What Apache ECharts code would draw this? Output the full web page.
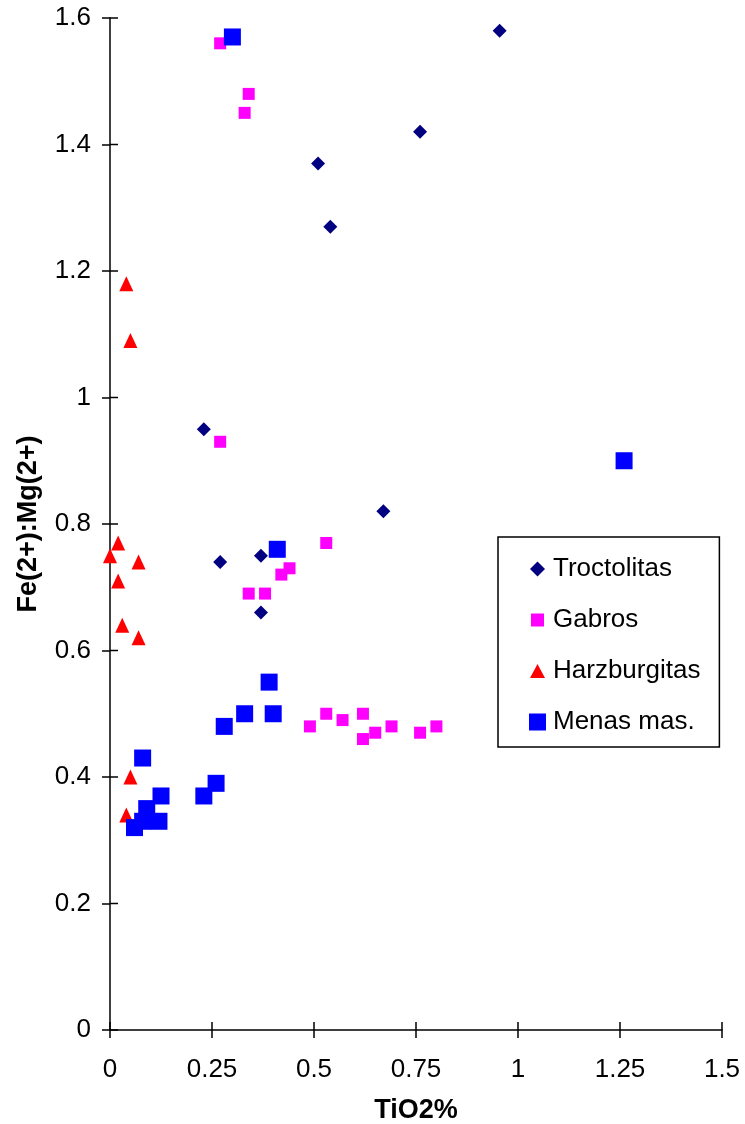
<!DOCTYPE html>
<html>
<head>
<meta charset="utf-8">
<script src="https://cdn.jsdelivr.net/npm/echarts@6/dist/echarts.min.js"></script>
<style>
  html, body { margin: 0; padding: 0; background: #fff; }
  #chart { width: 745px; height: 1124px; }
</style>
</head>
<body>
<div id="chart"></div>
<script>
// TiO2 (%) against Fe(2+):Mg(2+) for each rock group
const troctolitasTiO2 = [0.955, 0.76, 0.51, 0.54, 0.23, 0.67, 0.27, 0.37, 0.37];
const troctolitasFeMg = [1.58, 1.42, 1.37, 1.27, 0.95, 0.82, 0.74, 0.75, 0.66];

const gabrosTiO2 = [0.27, 0.34, 0.33, 0.27, 0.53, 0.44, 0.42, 0.34, 0.38, 0.49, 0.53, 0.57, 0.62, 0.62, 0.65, 0.69, 0.76, 0.80];
const gabrosFeMg = [1.56, 1.48, 1.45, 0.93, 0.77, 0.73, 0.72, 0.69, 0.69, 0.48, 0.50, 0.49, 0.50, 0.46, 0.47, 0.48, 0.47, 0.48];

const harzburgitasTiO2 = [0.04, 0.05, 0.02, 0.0, 0.07, 0.02, 0.03, 0.07, 0.05, 0.04];
const harzburgitasFeMg = [1.18, 1.09, 0.77, 0.75, 0.74, 0.71, 0.64, 0.62, 0.40, 0.34];

const menasTiO2 = [0.30, 1.26, 0.41, 0.39, 0.33, 0.40, 0.28, 0.08, 0.26, 0.23, 0.125, 0.09, 0.12, 0.08, 0.06];
const menasFeMg = [1.57, 0.90, 0.76, 0.55, 0.50, 0.50, 0.48, 0.43, 0.39, 0.37, 0.37, 0.35, 0.33, 0.33, 0.32];

const seriesNames = ['Troctolitas', 'Gabros', 'Harzburgitas', 'Menas mas.'];

// axis tick values (labels are formatted from these)
const xTicks = [0, 0.25, 0.5, 0.75, 1, 1.25, 1.5];
const yTicks = [0, 0.2, 0.4, 0.6, 0.8, 1, 1.2, 1.4, 1.6];

const xTitle = 'TiO2%';
const yTitle = 'Fe(2+):Mg(2+)';

function pairs(xs, ys) {
  return xs.map((x, i) => [x, ys[i]]);
}

const FONT = '"Liberation Sans", Arial, Helvetica, sans-serif';
const TICK = 8;

const chart = echarts.init(document.getElementById('chart'), null, { renderer: 'canvas' });

const axisLineStyle = { color: '#000', width: 1.5 };

// inner halves of the crossing tick marks: [value on x, value on y, which axis]
const innerTicks = xTicks.map(v => [v, 0, 0]).concat(yTicks.map(v => [0, v, 1]));

chart.setOption({
  animation: false,
  backgroundColor: '#ffffff',
  textStyle: { fontFamily: FONT, color: '#000' },
  grid: { left: 110, right: 23, top: 18, bottom: 94, containLabel: false, outerBoundsMode: 'none' },
  xAxis: {
    type: 'value', min: xTicks[0], max: xTicks[xTicks.length - 1], interval: 0.25,
    name: xTitle, nameLocation: 'middle', nameGap: 67,
    nameTextStyle: { fontFamily: FONT, fontSize: 27, fontWeight: 'bold', color: '#000' },
    axisLine: { onZero: false, lineStyle: axisLineStyle },
    axisTick: { length: TICK, lineStyle: axisLineStyle },
    axisLabel: { margin: 27, fontFamily: FONT, fontSize: 26, color: '#000' },
    splitLine: { show: false }
  },
  yAxis: {
    type: 'value', min: yTicks[0], max: yTicks[yTicks.length - 1], interval: 0.2,
    name: yTitle, nameLocation: 'middle', nameGap: 68, nameRotate: 90,
    nameTextStyle: { fontFamily: FONT, fontSize: 27, fontWeight: 'bold', color: '#000' },
    axisLine: { onZero: false, lineStyle: axisLineStyle },
    axisTick: { length: TICK, lineStyle: axisLineStyle },
    axisLabel: { margin: 19, fontFamily: FONT, fontSize: 26, color: '#000' },
    splitLine: { show: false }
  },
  legend: {
    orient: 'vertical',
    left: 498, top: 537,
    padding: [19, 19, 12, 31],
    itemGap: 25,
    itemWidth: 17, itemHeight: 17,
    borderColor: '#000', borderWidth: 1.5,
    backgroundColor: '#fff',
    textStyle: { fontFamily: FONT, fontSize: 26, color: '#000', padding: [0, 0, 0, 2] },
    data: [
      { name: seriesNames[0], icon: 'path://M0,0M17,17M8.5,1L16,8.5L8.5,16L1,8.5Z' },
      { name: seriesNames[1], icon: 'path://M0,0M17,17M2,2H15V15H2Z' },
      { name: seriesNames[2], icon: 'path://M0,0M17,17M8.5,1.5L16,15.5H1Z' },
      { name: seriesNames[3], icon: 'rect' }
    ]
  },
  series: [
    {
      type: 'custom', name: 'ticks', silent: true, clip: false, z: 1,
      data: innerTicks,
      renderItem: function (params, api) {
        const p = api.coord([api.value(0), api.value(1)]);
        const onY = api.value(2) === 1;
        return {
          type: 'line',
          shape: onY
            ? { x1: p[0], y1: p[1], x2: p[0] + TICK, y2: p[1] }
            : { x1: p[0], y1: p[1], x2: p[0], y2: p[1] - TICK },
          style: { stroke: '#000', lineWidth: 1.5 }
        };
      }
    },
    {
      name: seriesNames[0], type: 'scatter', symbol: 'diamond', symbolSize: 14, z: 2,
      itemStyle: { color: '#000080', opacity: 1 },
      data: pairs(troctolitasTiO2, troctolitasFeMg)
    },
    {
      name: seriesNames[1], type: 'scatter', symbol: 'rect', symbolSize: 12, z: 2,
      itemStyle: { color: '#ff00ff', opacity: 1 },
      data: pairs(gabrosTiO2, gabrosFeMg)
    },
    {
      name: seriesNames[2], type: 'scatter', symbol: 'triangle', symbolSize: [14, 15], z: 2,
      itemStyle: { color: '#ff0000', opacity: 1 },
      data: pairs(harzburgitasTiO2, harzburgitasFeMg)
    },
    {
      name: seriesNames[3], type: 'scatter', symbol: 'rect', symbolSize: 17, z: 2,
      itemStyle: { color: '#0000ff', opacity: 1 },
      data: pairs(menasTiO2, menasFeMg)
    }
  ]
});
</script>
</body>
</html>
